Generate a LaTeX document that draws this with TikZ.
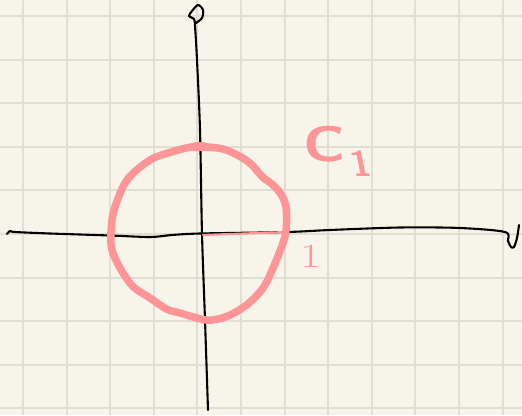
\documentclass[tikz,border=0pt]{standalone}
\usepackage{tikz}
\definecolor{paper}{HTML}{F7F5E9}
\definecolor{gridc}{HTML}{E0DFD3}
\definecolor{pinkpen}{HTML}{FF9597}
\tikzset{
  pen/.style={black, line width=2.1pt, line cap=round, line join=round},
  pinkthick/.style={pinkpen, line width=7.5pt, line cap=round, line join=round},
  pinkthin/.style={pinkpen, line width=2.2pt, line cap=round},
  lbl/.style={text=pinkpen, inner sep=0pt}
}
\begin{document}
\begin{tikzpicture}[x=1pt,y=-1pt]
\fill[paper] (0,0) rectangle (522,415);
\useasboundingbox (0,0) rectangle (522,415);
% grid
\foreach \k in {0,...,11} {
  \draw[gridc, line width=1.9pt] ({23+43.6*\k},0) -- ({23+43.6*\k},415);
}
\foreach \k in {0,...,9} {
  \draw[gridc, line width=1.9pt] (0,{16+43.6*\k}) -- (522,{16+43.6*\k});
}
% x axis with hand-drawn arrow hook
\draw[pen] plot[smooth, tension=0.5] coordinates {
 (7,234) (10,231) (15,232) (50,233.5) (110,235.5) (150,237) (172,235)
 (200,233.5) (287,232) (330,230) (400,227.5) (460,228) (505,232)
 (508,241) (511,247) (514,247) (517,238) (519,225)};
% y axis with hand-drawn arrow loop
\draw[pen] plot[smooth, tension=0.5] coordinates {
 (196,23) (202,18) (203,10) (198,5) (192,11) (189,16) (194,19)
 (195,26) (197,60) (200,130) (202,234) (205,320) (208,410)};
% circle C1
\coordinate (O) at (203,235);
\coordinate (R) at (287,232);
\draw[pinkthin] (O) -- (R);
\draw[pinkthick] plot[smooth cycle, tension=0.55] coordinates {
 (200,146.5) (223,149) (240,156.5) (252,165) (262,176.5) (273,185)
 (281.5,195) (286,207) (286.5,223) (285.5,234) (281.5,247) (273,268)
 (263,288) (246.5,305) (226.5,316.5) (206.5,320) (180,313) (166.5,309)
 (150,298) (133,286.5) (120,268) (111.5,248) (111.5,225) (115,207)
 (127,180) (150,160) (173,151.5) (191,147)};
\fill[pinkpen, rounded corners=3pt] (192,142) rectangle (207,151);
% labels
\node[lbl, anchor=base west, font=\sffamily\bfseries\fontsize{50}{50}\selectfont, xscale=1.2]
  (c1) at (303,161) {C};
\node[lbl, anchor=base west, font=\sffamily\bfseries\fontsize{36}{36}\selectfont, xslant=-0.2]
  (c1sub) at (353,176) {1};
\node[lbl, anchor=base west, font=\fontsize{34}{34}\selectfont, xscale=1.3] (one) at (300,267) {1};
\end{tikzpicture}
\end{document}
